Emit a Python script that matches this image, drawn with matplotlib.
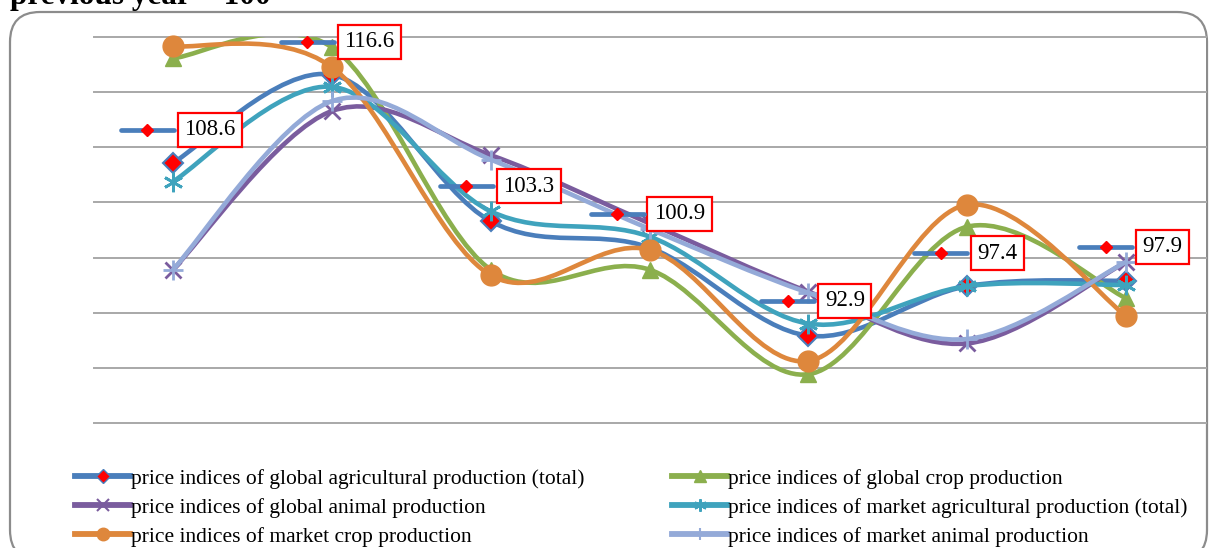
import numpy as np
import matplotlib
matplotlib.use("Agg")
import matplotlib.pyplot as plt
from matplotlib.path import Path
from matplotlib.patches import PathPatch, FancyBboxPatch
from matplotlib.lines import Line2D
from matplotlib.transforms import IdentityTransform

# ---------------- data ----------------
periods = [1, 2, 3, 4, 5, 6, 7]
global_total = [108.6, 116.6, 103.3, 100.9, 92.9, 97.4, 97.9]
global_crop = [118.1, 119.1, 98.9, 98.9, 89.4, 102.8, 96.3]
global_animal = [98.9, 113.3, 109.3, 103.1, 96.9, 92.2, 99.6]
market_total = [106.9, 115.5, 104.2, 101.9, 94.0, 97.4, 97.5]
market_crop = [119.2, 117.3, 98.4, 100.7, 90.6, 104.8, 94.7]
market_animal = [98.9, 114.2, 108.9, 102.6, 96.8, 92.6, 99.6]
series_names = [
    "price indices of global agricultural production (total)",
    "price indices of global crop production",
    "price indices of global animal production",
    "price indices of market agricultural production (total)",
    "price indices of market crop production",
    "price indices of market animal production",
]
title_text = "previous year = 100"
y_ticks = [85, 90, 95, 100, 105, 110, 115, 120]

# ---------------- styles ----------------
W, H = 1209, 548
DPI = 100
fig = plt.figure(figsize=(W / DPI, H / DPI), dpi=DPI)
fig.patch.set_facecolor("white")

ax = fig.add_axes([93.5 / W, (H - 422.7) / H, 1112 / W, (422.7 - 37.3) / H])
ax.set_xlim(-0.5, 6.5)
ax.set_ylim(85, 120)
ax.set_yticks(y_ticks)
ax.set_xticks([])
ax.tick_params(length=0, labelleft=False, labelbottom=False)
for s in ax.spines.values():
    s.set_visible(False)
ax.grid(axis="y", color="#a8a8a8", lw=1.4)
for gl in ax.get_ygridlines():
    gl.set_clip_on(False)
ax.set_axisbelow(True)

styles = [
    dict(color="#4A7EBB", marker="D", ms=10, mfc="#FF0000", mec="#4A7EBB", mew=1.5),
    dict(color="#8BAF4D", marker="^", ms=12, mfc="#8BAF4D", mec="#8BAF4D", mew=1),
    dict(color="#7A5C9E", marker="x", ms=12, mfc="#7A5C9E", mec="#7A5C9E", mew=2),
    dict(color="#3FA3BD", marker=(6, 2, 0), ms=14, mfc="#3FA3BD", mec="#3FA3BD", mew=2),
    dict(color="#DE873C", marker="o", ms=15, mfc="#DE873C", mec="#DE873C", mew=1),
    dict(color="#94AAD8", marker="+", ms=14, mfc="#94AAD8", mec="#94AAD8", mew=2),
]
all_series = [global_total, global_crop, global_animal, market_total, market_crop, market_animal]
LW = 3.3


def smooth_path(xs, ys):
    pts = np.column_stack([xs, ys]).astype(float)
    n = len(pts)
    verts = [pts[0]]
    codes = [Path.MOVETO]
    for i in range(n - 1):
        p0 = pts[i - 1] if i > 0 else pts[i]
        p1 = pts[i]
        p2 = pts[i + 1]
        p3 = pts[i + 2] if i + 2 < n else pts[i + 1]
        c1 = p1 + (p2 - p0) / 6.0
        c2 = p2 - (p3 - p1) / 6.0
        verts += [c1, c2, p2]
        codes += [Path.CURVE4] * 3
    return Path(verts, codes)


xpos = np.arange(len(periods))
for k, (vals, st) in enumerate(zip(all_series, styles)):
    patch = PathPatch(smooth_path(xpos, vals), facecolor="none", edgecolor=st["color"],
                      lw=LW, capstyle="round", joinstyle="round", zorder=2 + k)
    ax.add_patch(patch)
    ax.plot(xpos, vals, linestyle="none", marker=st["marker"], ms=st["ms"],
            mfc=st["mfc"], mec=st["mec"], mew=st["mew"], zorder=2.5 + k, clip_on=False)

# ---------------- data labels for series 1 ----------------
label_dx = [4, 5, 5, -3, 9, 3, 9]      # box left offset (px) from point
label_dy = [33, 33, 35, 34, 35, 33, 34]  # box centre offset (px) upward
fig.canvas.draw()
LFS = 16.5
pad_px = 6.5
for i, v in enumerate(global_total):
    px, py = ax.transData.transform((xpos[i], v))
    bx = px + label_dx[i]
    by = py + label_dy[i]
    ax.annotate(f"{v:.1f}", xy=(xpos[i], v), xytext=(label_dx[i] + pad_px + 1, label_dy[i]),
                textcoords="offset pixels", ha="left", va="center",
                fontsize=LFS, family="Liberation Serif", color="black", zorder=20,
                bbox=dict(boxstyle=f"square,pad={pad_px / (LFS * DPI / 72):.3f}", fc="white",
                          ec="#FF0000", lw=1.6))
    key = Line2D([bx - 56, bx - 3], [by, by], transform=IdentityTransform(),
                 color="#4A7EBB", lw=3.4, solid_capstyle="round", zorder=19)
    fig.add_artist(key)
    dm = Line2D([bx - 29.5], [by], transform=IdentityTransform(), marker="D", ms=6.5,
                mfc="#FF0000", mec="#FF0000", linestyle="none", zorder=19.5)
    fig.add_artist(dm)

# ---------------- legend ----------------
handles = []
for k, st in enumerate(styles):
    small = {0: 7, 1: 8, 2: 8, 3: 9, 4: 9, 5: 9}[k]
    handles.append(Line2D([0], [0], color=st["color"], lw=4.2, marker=st["marker"], ms=small,
                          mfc=st["mfc"], mec=st["mec"], mew=1.5 if k in (2, 3, 5) else 1))

LEGFS = 15.5
leg_kw = dict(loc="upper left", frameon=False, borderpad=0, borderaxespad=0,
              handlelength=2.56, handletextpad=0.03, labelspacing=0.42,
              prop=dict(family="Liberation Serif", size=LEGFS))
leg1 = fig.legend([handles[0], handles[2], handles[4]],
                  [series_names[0], series_names[2], series_names[4]],
                  bbox_to_anchor=(75 / W, (H - 468.5) / H), **leg_kw)
leg2 = fig.legend([handles[1], handles[3], handles[5]],
                  [series_names[1], series_names[3], series_names[5]],
                  bbox_to_anchor=(672 / W, (H - 468.5) / H), **leg_kw)

# ---------------- frame and title ----------------
frame = FancyBboxPatch((10, -12), 1197, H, boxstyle="round,pad=0,rounding_size=30",
                       transform=IdentityTransform(), fc="none", ec="#8c8c8c", lw=1.6, zorder=0)
fig.add_artist(frame)

fig.text(10 / W, (H - 4) / H, title_text, ha="left", va="baseline",
         fontsize=22.5, fontweight="bold", family="Liberation Serif")

fig.savefig("out.png", dpi=DPI)
